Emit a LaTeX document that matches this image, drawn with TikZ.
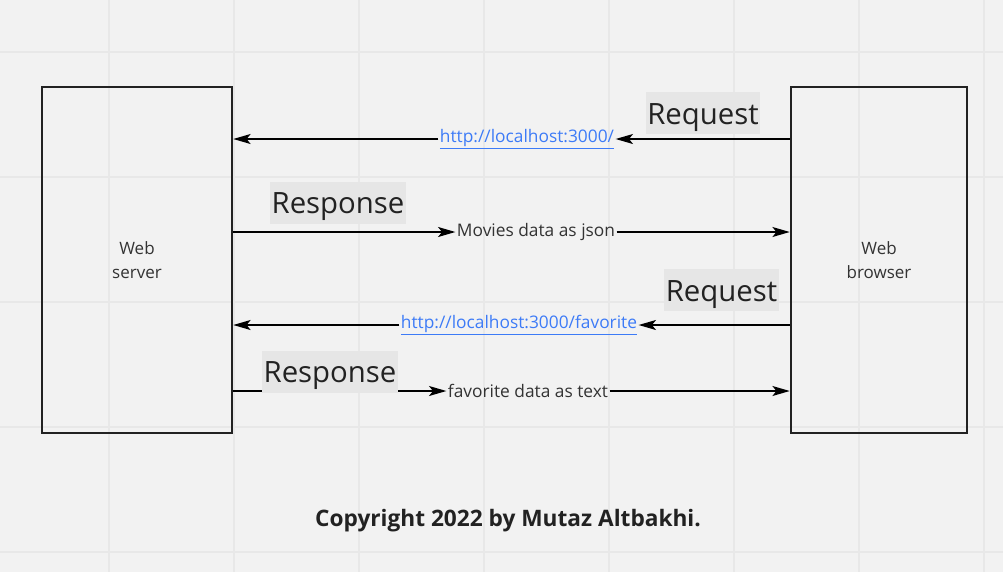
\documentclass[tikz,border=0pt]{standalone}
\usepackage{fontspec}
\setmainfont{Open Sans}
\usetikzlibrary{arrows.meta,positioning}
\definecolor{cink}{HTML}{222222}
\definecolor{cgrey}{HTML}{333333}
\definecolor{cpaper}{HTML}{F2F2F2}
\definecolor{cgrid}{HTML}{E8E8E8}
\definecolor{ctag}{HTML}{E6E6E6}
\definecolor{clink}{HTML}{3D7BF7}
\begin{document}
\begin{tikzpicture}[x=0.75pt, y=-0.75pt,
    box/.style={draw=cink, line width=1.9pt, align=center, text=cgrey, font=\fontsize{12.75}{18.5}\selectfont},
    msg/.style={inner sep=1pt, text=cgrey, font=\fontsize{13}{15}\selectfont},
    url/.style={msg, text=clink},
    tag/.style={fill=ctag, text=cink, inner xsep=1pt, inner ysep=0pt, text height=24pt, text depth=7.5pt, font=\fontsize{22}{26}\selectfont},
    arr/.style={-{Stealth[length=13pt, width=7.5pt, inset=3pt]}, black, line width=1.1pt}]
  \useasboundingbox (0,0) rectangle (1003,572);
  \fill[cpaper] (0,0) rectangle (1003,572);
  % grid
  \foreach \gx in {109,234,...,984} \draw[cgrid, line width=1.2pt] (\gx,0) -- (\gx,572);
  \foreach \gy in {52,177,...,552} \draw[cgrid, line width=1.2pt] (0,\gy) -- (1003,\gy);

  \node[box, minimum width=142.5pt, minimum height=259.5pt] (server) at (137,260) {Web\\server};
  \node[box, minimum width=132pt, minimum height=259.5pt] (browser) at (879,260) {Web\\browser};

  \node[url] (home) at (527,139) {\underline{http://localhost:3000/}};
  \node[msg] (json) at (536,232) {Movies data as json};
  \node[url] (fav) at (519,325) {\underline{http://localhost:3000/favorite}};
  \node[msg] (text) at (528,391) {favorite data as text};

  \draw[arr] (browser.west |- home) -- (home);
  \draw[arr] (home) -- (server.east |- home);
  \draw[arr] (server.east |- json) -- (json);
  \draw[arr] (json) -- (browser.west |- json);
  \draw[arr] (browser.west |- fav) -- (fav);
  \draw[arr] (fav) -- (server.east |- fav);
  \draw[arr] (server.east |- text) -- (text);
  \draw[arr] (text) -- (browser.west |- text);

  \node[tag] (req1) at (703,113) {Request};
  \node[tag] (res1) at (338,202.5) {Response};
  \node[tag] (req2) at (721.5,290) {Request};
  \node[tag] (res2) at (330,371.5) {Response};

  \node[text=cink, font=\fontsize{17}{20}\selectfont\bfseries] (copy) at (508,521) {Copyright 2022 by Mutaz Altbakhi.};
\end{tikzpicture}
\end{document}
